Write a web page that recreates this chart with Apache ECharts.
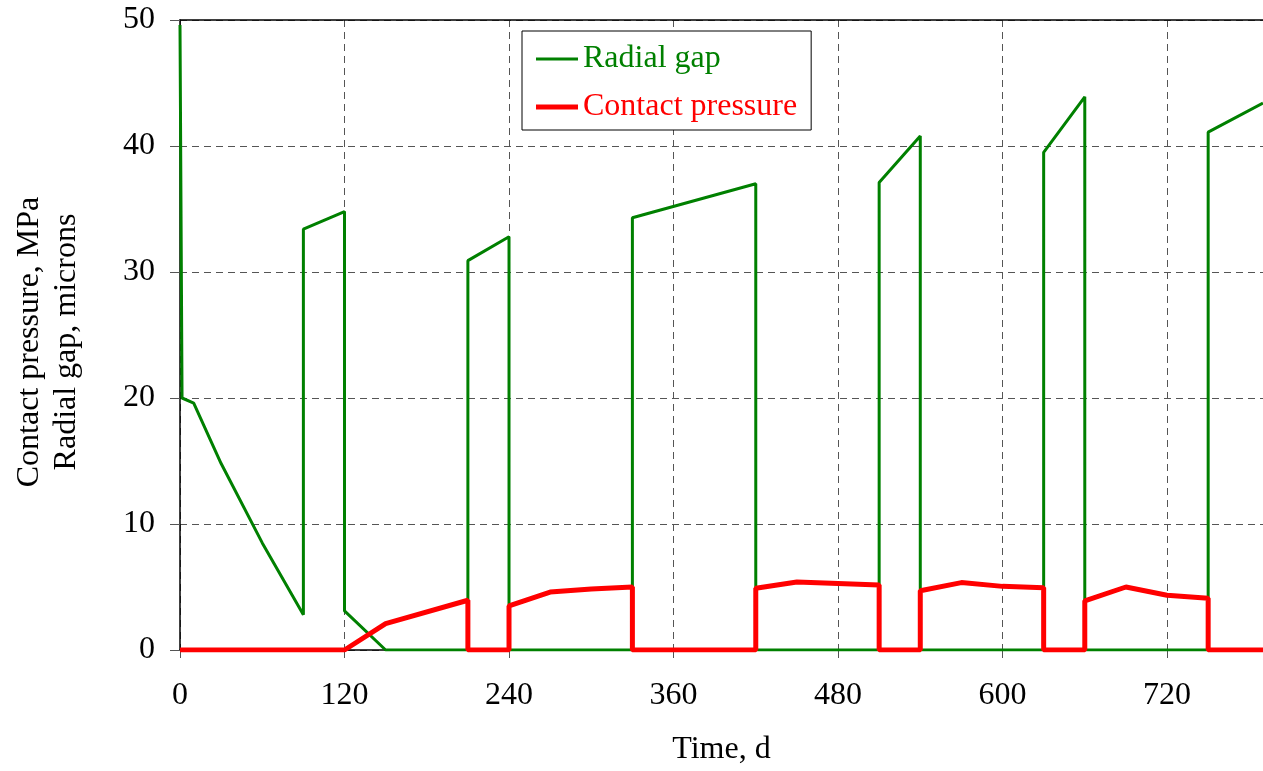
<!DOCTYPE html>
<html>
<head>
<meta charset="utf-8">
<script src="https://cdn.jsdelivr.net/npm/echarts@6/dist/echarts.min.js"></script>
<style>
html,body{margin:0;padding:0;background:#fff;}
#chart{width:1263px;height:771px;}
</style>
</head>
<body>
<div id="chart"></div>
<script>
// Radial gap (microns) vs time (d)
const gapTime   = [0, 1.5, 10, 30, 60, 90, 90, 120, 120, 150, 210, 210, 240, 240, 330, 330, 420, 420, 510, 510, 540, 540, 630, 630, 660, 660, 750, 750, 790];
const gapValues = [49.6, 20.0, 19.6, 14.8, 8.5, 2.8, 33.4, 34.8, 3.1, 0, 0, 30.9, 32.8, 0, 0, 34.3, 37.0, 0, 0, 37.1, 40.8, 0, 0, 39.5, 43.9, 0, 0, 41.1, 43.4];
// Contact pressure (MPa) vs time (d)
const presTime   = [0, 120, 150, 210, 210, 240, 240, 270, 300, 330, 330, 420, 420, 450, 510, 510, 540, 540, 570, 600, 630, 630, 660, 660, 690, 720, 750, 750, 790];
const presValues = [0, 0, 2.1, 3.95, 0, 0, 3.5, 4.6, 4.85, 5.0, 0, 0, 4.9, 5.4, 5.15, 0, 0, 4.7, 5.35, 5.05, 4.95, 0, 0, 3.9, 5.0, 4.35, 4.1, 0, 0];
const xTicks = [0, 120, 240, 360, 480, 600, 720];
const yTicks = [0, 10, 20, 30, 40, 50];

const gapData = gapTime.map((t, i) => [t, gapValues[i]]);
const presData = presTime.map((t, i) => [t, presValues[i]]);

const FONT = '"Liberation Serif", "Times New Roman", serif';
const chart = echarts.init(document.getElementById('chart'));
chart.setOption({
  animation: false,
  backgroundColor: '#fff',
  textStyle: { fontFamily: FONT },
  grid: { left: 180, right: 0, top: 20, bottom: 119, containLabel: false },
  legend: {
    left: 522, top: 31,
    orient: 'vertical',
    backgroundColor: '#fff',
    borderColor: '#000', borderWidth: 1, borderRadius: 0,
    padding: [12, 14, 7, 14],
    itemWidth: 42, itemHeight: 14, itemGap: 16,
    symbolKeepAspect: true,
    itemStyle: { borderWidth: 0 },
    textStyle: { fontFamily: FONT, fontSize: 32, lineHeight: 32 },
    data: [
      { name: 'Radial gap', icon: 'path://M0,0H42V3H0Z', textStyle: { color: '#008000' } },
      { name: 'Contact pressure', icon: 'path://M0,0H42V5H0Z', textStyle: { color: '#ff0000' } }
    ]
  },
  xAxis: [{
    type: 'value', min: 0, max: 790, interval: 120,
    name: 'Time, d', nameLocation: 'middle', nameGap: 84,
    nameTextStyle: { fontFamily: FONT, fontSize: 32, color: '#000' },
    axisLine: { show: true, lineStyle: { color: '#000', width: 1.5 } },
    axisTick: { show: true, length: 8, lineStyle: { color: '#555' }, customValues: xTicks },
    axisLabel: { fontFamily: FONT, fontSize: 32, color: '#000', margin: 30, customValues: xTicks },
    splitLine: { show: true, lineStyle: { color: '#555', type: [7, 5], width: 1 } }
  }, {
    type: 'value', min: 0, max: 790, position: 'top',
    axisLine: { show: true, onZero: false, lineStyle: { color: '#000', width: 1.5 } },
    axisTick: { show: false }, axisLabel: { show: false }, splitLine: { show: false }
  }],
  yAxis: {
    type: 'value', min: 0, max: 50, interval: 10,
    name: 'Contact pressure, MPa\nRadial gap, microns',
    nameLocation: 'middle', nameGap: 95, nameRotate: 90,
    nameTextStyle: { fontFamily: FONT, fontSize: 32, color: '#000', lineHeight: 37, align: 'center', padding: [0, 14, 0, 0] },
    axisLine: { show: true, lineStyle: { color: '#000', width: 1.5 } },
    axisTick: { show: true, length: 10, lineStyle: { color: '#555' } },
    axisLabel: { fontFamily: FONT, fontSize: 32, color: '#000', margin: 25 },
    splitLine: { show: true, lineStyle: { color: '#555', type: [7, 5], width: 1 } }
  },
  series: [
    {
      name: 'Radial gap', type: 'line', data: gapData, xAxisIndex: 0,
      symbol: 'none', lineStyle: { color: '#008000', width: 3 }, itemStyle: { color: '#008000' }
    },
    {
      name: 'Contact pressure', type: 'line', data: presData, xAxisIndex: 0,
      symbol: 'none', lineStyle: { color: '#ff0000', width: 5 }, itemStyle: { color: '#ff0000' }
    }
  ]
});
</script>
</body>
</html>
